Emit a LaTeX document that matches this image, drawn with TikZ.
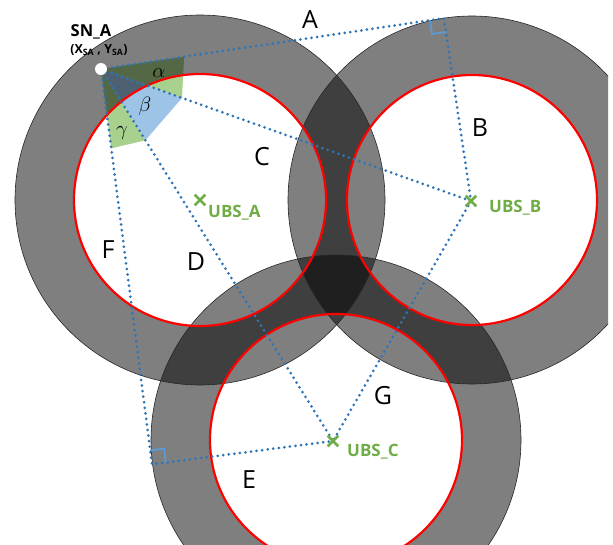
\documentclass[tikz,border=0pt]{standalone}
\usepackage{fontspec}
\setmainfont{Open Sans}
\usetikzlibrary{calc,shapes.misc}
\definecolor{linkblue}{RGB}{46,117,182}
\definecolor{markblue}{RGB}{91,155,213}
\definecolor{ubsgreen}{RGB}{112,173,71}
\definecolor{wedgegreen}{RGB}{169,209,142}
\definecolor{wedgeblue}{RGB}{157,195,230}
\begin{document}
\begin{tikzpicture}[x=1pt,y=-1pt,
  link/.style={draw=linkblue, line width=3pt, line cap=round, dash pattern=on 0pt off 5.6pt},
  ring/.style={fill=black, fill opacity=0.5, even odd rule},
  rim/.style={draw=black!85, line width=0.6pt},
  innerrim/.style={draw=red, line width=2.2pt},
  ubs/.style={cross out, draw=ubsgreen, line width=2.6pt, minimum size=8pt, inner sep=0pt},
  ubslabel/.style={text=ubsgreen, font=\fontsize{17}{17}\selectfont\bfseries, anchor=west, inner sep=0pt},
  seglabel/.style={font=\fontsize{25}{25}\selectfont, inner sep=0pt},
  anglabel/.style={font=\fontsize{22}{22}\selectfont, inner sep=0pt},
  rightangle/.style={draw=markblue, line width=1.8pt},
  wedgeG/.style={fill=wedgegreen},
  wedgeB/.style={fill=wedgeblue}]
\useasboundingbox (0,0) rectangle (613,544);
\clip (0,0) rectangle (608,544);

% centres of the three coverage rings
\coordinate (CA) at (200,200);
\coordinate (CB) at (472,200);
\coordinate (CC) at (336,440);
% sensor node and base stations
\coordinate (SN) at (101,69);
\coordinate (UA) at (200,200);
\coordinate (UB) at (471,201);
\coordinate (UC) at (333,441);
% feet of the perpendiculars
\coordinate (PAB) at ($(SN)!(UB)!(445,18)$);
\coordinate (PSC) at ($(SN)!(UC)!(152,464)$);

% angle wedges at the sensor node
\fill[wedgeG] (SN) -- ($(SN)!84pt!(PAB)$) -- ($(SN)!86pt!(UB)$) -- cycle;
\fill[wedgeB] (SN) -- ($(SN)!86pt!(UB)$) -- ($(SN)!84pt!(UC)$) -- cycle;
\fill[wedgeG] (SN) -- ($(SN)!84pt!(UC)$) -- ($(SN)!80pt!(PSC)$) -- cycle;

% translucent rings
\fill[ring] (CA) circle[radius=185pt] circle[radius=126pt];
\fill[ring] (CB) circle[radius=184pt] circle[radius=125pt];
\fill[ring] (CC) circle[radius=185pt] circle[radius=126pt];
\draw[rim] (CA) circle[radius=185pt];
\draw[rim] (CB) circle[radius=184pt];
\draw[rim] (CC) circle[radius=185pt];
\draw[innerrim] (CA) circle[radius=126pt];
\draw[innerrim] (CB) circle[radius=125pt];
\draw[innerrim] (CC) circle[radius=126pt];

% right-angle marks
\coordinate (ra1) at ($(PAB)!14pt!(SN)$);
\coordinate (ra2) at ($(PAB)!14pt!(UB)$);
\draw[rightangle] (ra1) -- ($(ra1)+(ra2)-(PAB)$) -- (ra2);
\coordinate (rc1) at ($(PSC)!14pt!(SN)$);
\coordinate (rc2) at ($(PSC)!14pt!(UC)$);
\draw[rightangle] (rc1) -- ($(rc1)+(rc2)-(PSC)$) -- (rc2);

% distance segments
\draw[link] (SN) -- (PAB) -- (UB);
\draw[link] (SN) -- (UB);
\draw[link] (SN) -- (UC);
\draw[link] (SN) -- (PSC) -- (UC);
\draw[link] (UB) -- (UC);

% nodes
\node[circle, fill=white, minimum size=12pt, inner sep=0pt] (sn) at (SN) {};
\node[ubs] (ubsA) at (UA) {};
\node[ubs] (ubsB) at (UB) {};
\node[ubs] (ubsC) at (UC) {};

% labels
\node[font=\fontsize{16.5}{16.5}\selectfont\bfseries, inner sep=0pt] (snname) at (91,32) {SN\_A};
\node[font=\fontsize{12.5}{12.5}\selectfont\bfseries, inner sep=0pt] (sncoord) at (99,50) {(X\textsubscript{SA} , Y\textsubscript{SA})};
\node[ubslabel] (lUA) at (208,213) {UBS\_A};
\node[ubslabel] (lUB) at (489,208) {UBS\_B};
\node[ubslabel] (lUC) at (347,452) {UBS\_C};
\node[seglabel] (lA) at (310,20) {A};
\node[seglabel] (lB) at (480,128) {B};
\node[seglabel] (lC) at (262,157) {C};
\node[seglabel] (lD) at (196,262) {D};
\node[seglabel] (lE) at (249,480) {E};
\node[seglabel] (lF) at (108,250) {F};
\node[seglabel] (lG) at (383,396) {G};
\node[anglabel] (alpha) at (159,73) {$\alpha$};
\node[anglabel] (beta) at (145,106) {$\beta$};
\node[anglabel] (gamma) at (122,133) {$\gamma$};
\end{tikzpicture}
\end{document}
